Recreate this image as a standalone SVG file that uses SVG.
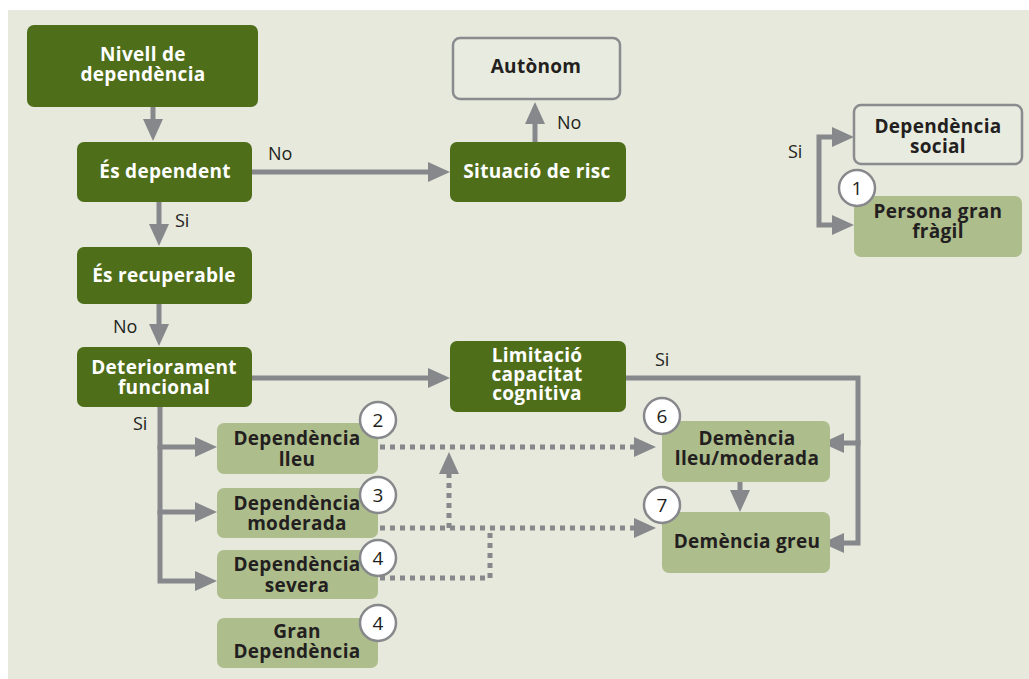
<svg xmlns="http://www.w3.org/2000/svg" width="1029" height="679" viewBox="0 0 1029 679">
<defs>
<marker id="ah" markerUnits="userSpaceOnUse" markerWidth="22" markerHeight="20" refX="2" refY="10" orient="auto" viewBox="0 0 22 20"><path d="M0,0 L22,10 L0,20 Z" fill="#87888c"/></marker>
<style>
.dk{fill:#4e6e1a}
.lt{fill:#adbd8c}
.wh{fill:#e8ebdf;stroke:#8a8b8f;stroke-width:2.5}
.tw{font-family:"Open Sans","DejaVu Sans",sans-serif;font-weight:700;font-size:19px;letter-spacing:0.3px;fill:#ffffff;text-anchor:middle}
.tb{font-family:"Open Sans","DejaVu Sans",sans-serif;font-weight:700;font-size:19px;letter-spacing:0.3px;fill:#231f20;text-anchor:middle}
.lb{font-family:"Open Sans","DejaVu Sans",sans-serif;font-size:18px;fill:#231f20}
.c{fill:none;stroke:#87888c;stroke-width:5}
.d{fill:none;stroke:#87888c;stroke-width:5;stroke-dasharray:5 5}
.bd{fill:#ffffff;stroke:#87888c;stroke-width:2.5}
.bn{font-family:"Open Sans","DejaVu Sans",sans-serif;font-size:19px;fill:#231f20;text-anchor:middle}
</style>
</defs>
<rect x="0" y="0" width="1029" height="679" fill="#ffffff"/>
<rect x="8" y="10" width="1021" height="669" fill="#e6e9dc"/>
<g id="connectors">
<path class="c" d="M153,107 V121" marker-end="url(#ah)"/>
<path class="c" d="M251,172 H430" marker-end="url(#ah)"/>
<path class="c" d="M535,142 V122" marker-end="url(#ah)"/>
<path class="c" d="M159,201 V226" marker-end="url(#ah)"/>
<path class="c" d="M159,304 V326" marker-end="url(#ah)"/>
<path class="c" d="M252,378 H430" marker-end="url(#ah)"/>
<path class="c" d="M626,378 H858 V443 H842" marker-end="url(#ah)"/>
<path class="c" d="M858,440 V543 H842" marker-end="url(#ah)"/>
<path class="c" d="M740,482 V492" marker-end="url(#ah)"/>
<path class="c" d="M160,407 V447 H197" marker-end="url(#ah)"/>
<path class="c" d="M160,445 V512 H197" marker-end="url(#ah)"/>
<path class="c" d="M160,510 V581 H197" marker-end="url(#ah)"/>
<path class="c" d="M819,181 V137 H834" marker-end="url(#ah)"/>
<path class="c" d="M819,181 V225 H834" marker-end="url(#ah)"/>
<path class="d" d="M380,447 H636" marker-end="url(#ah)"/>
<path class="d" d="M380,528 H636" marker-end="url(#ah)"/>
<path class="d" d="M449,528 V472" marker-end="url(#ah)"/>
<path class="d" d="M380,578 H490 V530"/>
</g>
<g id="labels">
<text class="lb" x="268" y="160">No</text>
<text class="lb" x="175" y="227">Si</text>
<text class="lb" x="557" y="129">No</text>
<text class="lb" x="113" y="333">No</text>
<text class="lb" x="133" y="430">Si</text>
<text class="lb" x="655" y="366">Si</text>
<text class="lb" x="788" y="158">Si</text>
</g>
<g id="n-nivell"><rect class="dk" x="27" y="25" width="231" height="82" rx="7"/><text class="tw" x="143" y="61">Nivell de</text><text class="tw" x="143" y="81">dependència</text></g>
<g id="n-esdep"><rect class="dk" x="77" y="142" width="175" height="60" rx="7"/><text class="tw" x="165" y="178">És dependent</text></g>
<g id="n-risc"><rect class="dk" x="450" y="142" width="176" height="60" rx="7"/><text class="tw" x="537" y="178">Situació de risc</text></g>
<g id="n-autonom"><rect class="wh" x="453" y="38" width="167" height="61" rx="7"/><text class="tb" x="536" y="73">Autònom</text></g>
<g id="n-recup"><rect class="dk" x="77" y="247" width="175" height="57" rx="7"/><text class="tw" x="164" y="282">És recuperable</text></g>
<g id="n-deter"><rect class="dk" x="77" y="347" width="175" height="60" rx="7"/><text class="tw" x="164" y="374">Deteriorament</text><text class="tw" x="164" y="394">funcional</text></g>
<g id="n-limit"><rect class="dk" x="450" y="341" width="176" height="71" rx="7"/><text class="tw" x="537" y="362">Limitació</text><text class="tw" x="537" y="381">capacitat</text><text class="tw" x="537" y="400">cognitiva</text></g>
<g id="n-dlleu"><rect class="lt" x="217" y="423" width="161" height="51" rx="7"/><text class="tb" x="297" y="445">Dependència</text><text class="tb" x="297" y="466">lleu</text><circle class="bd" cx="378" cy="420" r="18"/><text class="bn" x="378" y="427">2</text></g>
<g id="n-dmod"><rect class="lt" x="217" y="488" width="161" height="50" rx="7"/><text class="tb" x="297" y="510">Dependència</text><text class="tb" x="297" y="530">moderada</text><circle class="bd" cx="378" cy="495" r="18"/><text class="bn" x="378" y="502">3</text></g>
<g id="n-dsev"><rect class="lt" x="217" y="550" width="161" height="49" rx="7"/><text class="tb" x="297" y="571">Dependència</text><text class="tb" x="297" y="592">severa</text><circle class="bd" cx="378" cy="558" r="18"/><text class="bn" x="378" y="565">4</text></g>
<g id="n-gran"><rect class="lt" x="217" y="618" width="161" height="50" rx="7"/><text class="tb" x="297" y="638">Gran</text><text class="tb" x="297" y="658">Dependència</text><circle class="bd" cx="378" cy="623" r="18"/><text class="bn" x="378" y="630">4</text></g>
<g id="n-demlleu"><rect class="lt" x="662" y="421" width="168" height="61" rx="7"/><text class="tb" x="747" y="445">Demència</text><text class="tb" x="747" y="465">lleu/moderada</text><circle class="bd" cx="662" cy="416" r="18"/><text class="bn" x="662" y="423">6</text></g>
<g id="n-demgreu"><rect class="lt" x="662" y="512" width="168" height="61" rx="7"/><text class="tb" x="747" y="548">Demència greu</text><circle class="bd" cx="662" cy="505" r="18"/><text class="bn" x="662" y="512">7</text></g>
<g id="n-social"><rect class="wh" x="854" y="105" width="168" height="59" rx="7"/><text class="tb" x="938" y="133">Dependència</text><text class="tb" x="938" y="153">social</text></g>
<g id="n-fragil"><rect class="lt" x="854" y="196" width="168" height="61" rx="7"/><text class="tb" x="938" y="218">Persona gran</text><text class="tb" x="938" y="238">fràgil</text><circle class="bd" cx="857" cy="188" r="18"/><text class="bn" x="857" y="195">1</text></g>
</svg>
